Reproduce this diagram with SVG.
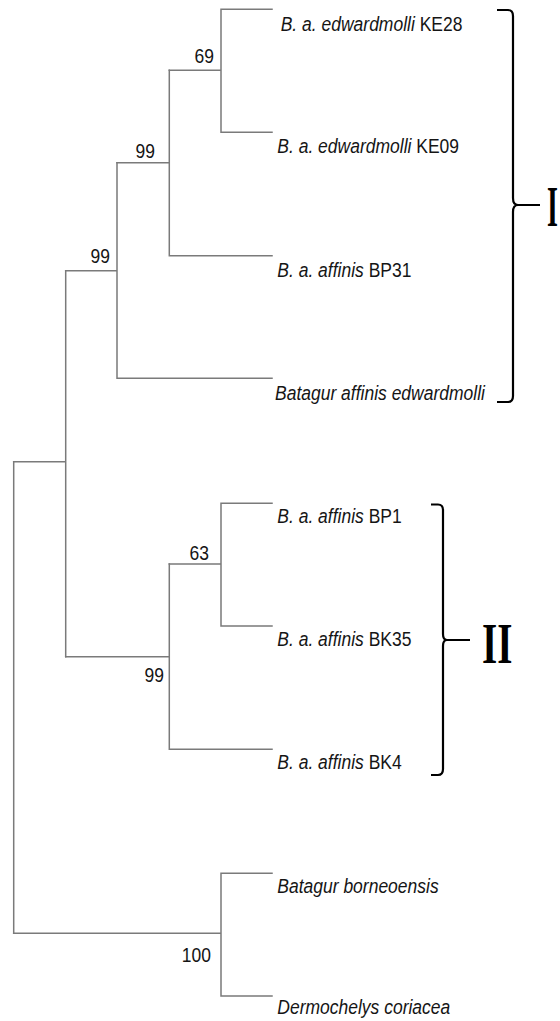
<svg xmlns="http://www.w3.org/2000/svg" width="560" height="1021" viewBox="0 0 560 1021">
<style>
.br{fill:none;stroke:#7a7a7a;stroke-width:1.5;stroke-linecap:square}
.bk{fill:none;stroke:#000;stroke-width:2.2}
.sp{font-family:"Liberation Sans",Arial,sans-serif;font-size:17.5px;fill:#151515}
.it{font-style:italic}
.bs{font-family:"Liberation Sans",Arial,sans-serif;font-size:17.5px;fill:#151515;text-anchor:end}
.rn{font-family:"Liberation Serif","Times New Roman",serif;font-weight:bold;fill:#000}
</style>
<rect width="560" height="1021" fill="#fff"/>
<g id="connectors">
<path class="br" d="M221,9.3 H272 M221,132.3 H272 M221,9.3 V132.3 M169.3,70.3 H221"/>
<path class="br" d="M169.3,70.3 V255.7 M169.3,255.7 H272 M117,162.7 H169.3"/>
<path class="br" d="M117,162.7 V378.3 M117,378.3 H272 M65.7,270.7 H117"/>
<path class="br" d="M221,503.3 H272 M221,626 H272 M221,503.3 V626 M169.3,564 H221"/>
<path class="br" d="M169.3,564 V749.3 M169.3,749.3 H272 M65.7,656.7 H169.3"/>
<path class="br" d="M65.7,270.7 V656.7 M13.7,461.7 H65.7"/>
<path class="br" d="M221,873.3 H272 M221,996 H272 M221,873.3 V996 M13.7,933.3 H221"/>
<path class="br" d="M13.7,461.7 V933.3"/>
</g>
<g id="support">
<text class="bs" transform="translate(214,62.7) scale(1,1.2)">69</text>
<text class="bs" transform="translate(155,157.7) scale(1,1.2)">99</text>
<text class="bs" transform="translate(110,263) scale(1,1.2)">99</text>
<text class="bs" transform="translate(209,560) scale(1,1.2)">63</text>
<text class="bs" transform="translate(164,681.7) scale(1,1.2)">99</text>
<text class="bs" transform="translate(211,962) scale(1,1.2)">100</text>
</g>
<g id="KE28"><text class="sp" transform="translate(280.7,30.7) scale(1,1.2)"><tspan class="it">B. a. edwardmolli</tspan> KE28</text></g>
<g id="KE09"><text class="sp" transform="translate(277.3,153.3) scale(1,1.2)"><tspan class="it">B. a. edwardmolli</tspan> KE09</text></g>
<g id="BP31"><text class="sp" transform="translate(277.3,276.7) scale(1,1.2)"><tspan class="it">B. a. affinis</tspan> BP31</text></g>
<g id="BAE"><text class="sp it" transform="translate(275,399.5) scale(1,1.2)">Batagur affinis edwardmolli</text></g>
<g id="BP1"><text class="sp" transform="translate(277.3,523) scale(1,1.2)"><tspan class="it">B. a. affinis</tspan> BP1</text></g>
<g id="BK35"><text class="sp" transform="translate(277.3,646) scale(1,1.2)"><tspan class="it">B. a. affinis</tspan> BK35</text></g>
<g id="BK4"><text class="sp" transform="translate(277.3,769) scale(1,1.2)"><tspan class="it">B. a. affinis</tspan> BK4</text></g>
<g id="BB"><text class="sp it" transform="translate(277.3,892.5) scale(1,1.2)">Batagur borneoensis</text></g>
<g id="DC"><text class="sp it" transform="translate(277.3,1013.5) scale(1,1.2)">Dermochelys coriacea</text></g>
<g id="cladeI">
<path class="bk" d="M497,10 H508 Q513,10 513,16 V198 Q513,205 518,205 Q513,205 513,212 V396 Q513,402 508,402 H497 M515,205 H540"/>
<text class="rn" font-size="39" transform="translate(547,226) scale(0.72,1.45)">I</text>
</g>
<g id="cladeII">
<path class="bk" d="M431,504.5 H438 Q443,504.5 443,510 V634 Q443,640 447,640 Q443,640 443,646 V769 Q443,775 438,775 H431 M445,640 H470"/>
<text class="rn" font-size="39" transform="translate(482,662.7) scale(1,1.45)">II</text>
</g>
</svg>
